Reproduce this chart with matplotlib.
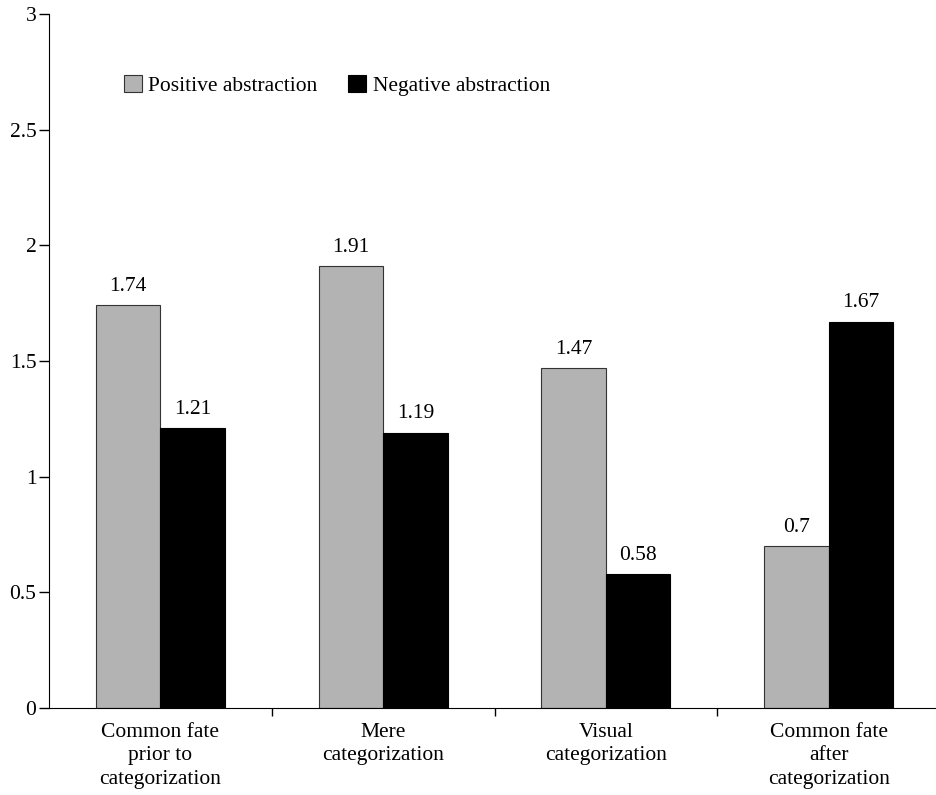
import numpy as np
import matplotlib.pyplot as plt

plt.rcParams['font.family'] = ['Liberation Serif', 'DejaVu Serif']

# Data
categories = ['Common fate\nprior to\ncategorization', 'Mere\ncategorization',
              'Visual\ncategorization', 'Common fate\nafter\ncategorization']
positive = [1.74, 1.91, 1.47, 0.7]
negative = [1.21, 1.19, 0.58, 1.67]
value_fmt = lambda v: ('%g' % v)

fig = plt.figure(figsize=(9.36, 7.95), dpi=100)
ax = fig.add_axes([49 / 936, 87 / 795, 891 / 936, 694 / 795])

x = np.arange(len(categories))
w = 0.29
b1 = ax.bar(x - w / 2, positive, w, color='#b3b3b3', edgecolor='#333333', linewidth=0.8,
            label='Positive abstraction')
b2 = ax.bar(x + w / 2, negative, w, color='black', edgecolor='black', linewidth=0.8,
            label='Negative abstraction')

for bars, vals in ((b1, positive), (b2, negative)):
    for bar, v in zip(bars, vals):
        ax.text(bar.get_x() + bar.get_width() / 2, v + 0.04, value_fmt(v),
                ha='center', va='bottom', fontsize=15.5)

ax.set_xlim(-0.5, 3.5)
ax.set_ylim(0, 3)
ax.set_yticks([0, 0.5, 1, 1.5, 2, 2.5, 3])
ax.set_yticklabels(['0', '0.5', '1', '1.5', '2', '2.5', '3'], fontsize=15.5)

# category labels centered, tick marks at group boundaries
ax.set_xticks([0.5, 1.5, 2.5])
ax.set_xticklabels([])
ax.set_xticks(x, minor=True)
ax.set_xticklabels(categories, minor=True, fontsize=15.5, linespacing=1.3)
ax.tick_params(axis='x', which='minor', length=0, pad=11)
ax.tick_params(axis='x', which='major', length=6, width=1, direction='out')
ax.tick_params(axis='y', length=7, width=1, direction='out', pad=2)

ax.spines['top'].set_visible(False)
ax.spines['right'].set_visible(False)

ax.legend(loc='upper left', bbox_to_anchor=(0.062, 0.94), ncol=2, frameon=False,
          fontsize=15.5, handlelength=0.85, handleheight=0.85, handletextpad=0.3,
          columnspacing=1.4)

fig.savefig('out.png', dpi=100)
